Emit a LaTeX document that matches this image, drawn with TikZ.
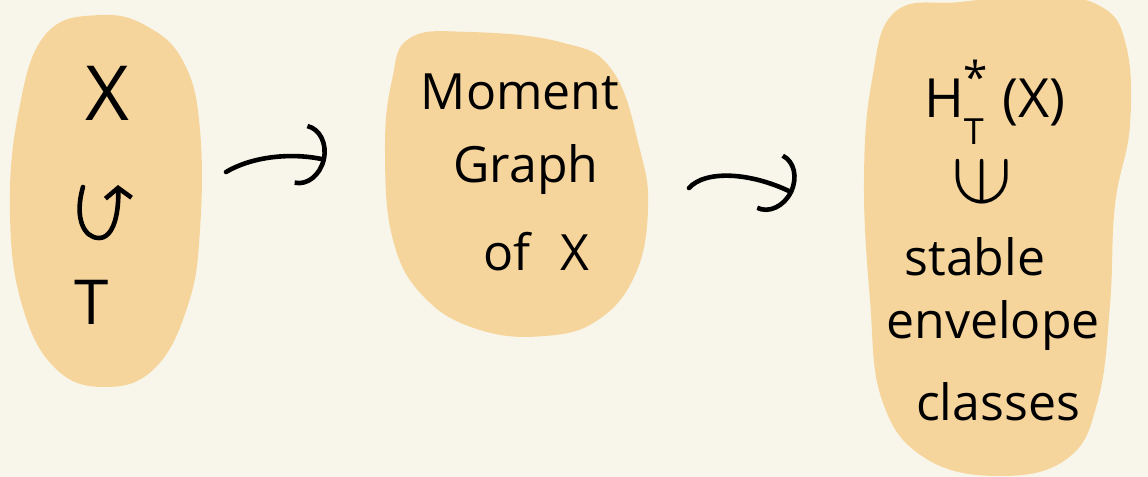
\documentclass[tikz,border=0pt]{standalone}
\usepackage{fontspec}
\setmainfont{Open Sans}
\usetikzlibrary{arrows.meta,positioning}
\definecolor{paper}{RGB}{248,246,234}
\definecolor{blobfill}{RGB}{246,213,156}

\begin{document}
\begin{tikzpicture}[
  x=0.5pt,y=-0.5pt,
  blob/.style={fill=blobfill,draw=none},
  word/.style={inner sep=0pt,font=\fontsize{25}{30}\selectfont},
  big/.style={inner sep=0pt,font=\fontsize{38}{40}\selectfont},
  arr/.style={line width=2.3pt,line cap=round,-{Arc Barb[length=4.5mm,width=11mm,line width=2.3pt]}},
  act/.style={line width=2.3pt,line cap=round,-{Straight Barb[length=1.8mm,width=4.6mm,line width=2.3pt]}}
]
  \fill[paper] (0,0) rectangle (1148,477);
  \useasboundingbox (0,0) rectangle (1148,477);
  % blobs
  \fill[blob] plot[smooth cycle,tension=0.7] coordinates {(45,35) (100,15) (150,28) (185,65) (200,130) (200,230) (188,305) (155,368) (105,387) (55,368) (22,305) (10,215) (18,115)};
  \fill[blob] plot[smooth cycle,tension=0.7] coordinates {(410,38) (470,32) (560,42) (612,70) (640,150) (648,210) (635,275) (598,320) (545,336) (480,330) (425,298) (393,240) (385,150) (392,80)};
  \fill[blob] plot[smooth cycle,tension=0.7] coordinates {(895,12) (960,2) (1040,-4) (1100,6) (1126,45) (1130,125) (1115,205) (1110,305) (1098,400) (1068,458) (1000,476) (925,458) (882,400) (870,300) (864,180) (872,80)};
  % left blob
  \node[big] (space) at (107,93) {X};
  \node[big,font=\fontsize{31}{34}\selectfont] (torus) at (92,302) {T};
  \draw[act] (83,187) .. controls (74,218) and (84,238) .. (99,238) .. controls (114,238) and (119,212) .. (118,185);
  % middle blob
  \node[word] (moment) at (520,92) {Moment};
  \node[word] (graph) at (526,170) {Graph};
  \node[word] (ofx) at (536,252) {of\hspace{0.6em}X};
  % right blob
  \node[word,font=\fontsize{27}{30}\selectfont] (coh) at (995,102) {H\raisebox{0.45em}{\fontsize{22}{24}\selectfont *}\kern-0.45em\raisebox{-0.5em}{\fontsize{18}{20}\selectfont T}\hspace{0.35em}(X)};
  \node[word] (contains) at (982,182) {\scalebox{1.8}{\rotatebox[origin=c]{90}{$\in$}}};
  \node[word] (stable) at (975,257) {stable};
  \node[word] (envelope) at (993,326) {envelope};
  \node[word] (classes) at (998,402) {classes};
  % arrows
  \coordinate (a1s) at (226,172);
  \coordinate (a1e) at (326,160);
  \coordinate (a2s) at (689,188);
  \coordinate (a2e) at (793,193);
  \draw[arr] (a1s) .. controls (255,155) and (295,153) .. (a1e);
  \draw[arr] (a2s) .. controls (705,170) and (750,172) .. (a2e);
\end{tikzpicture}
\end{document}
